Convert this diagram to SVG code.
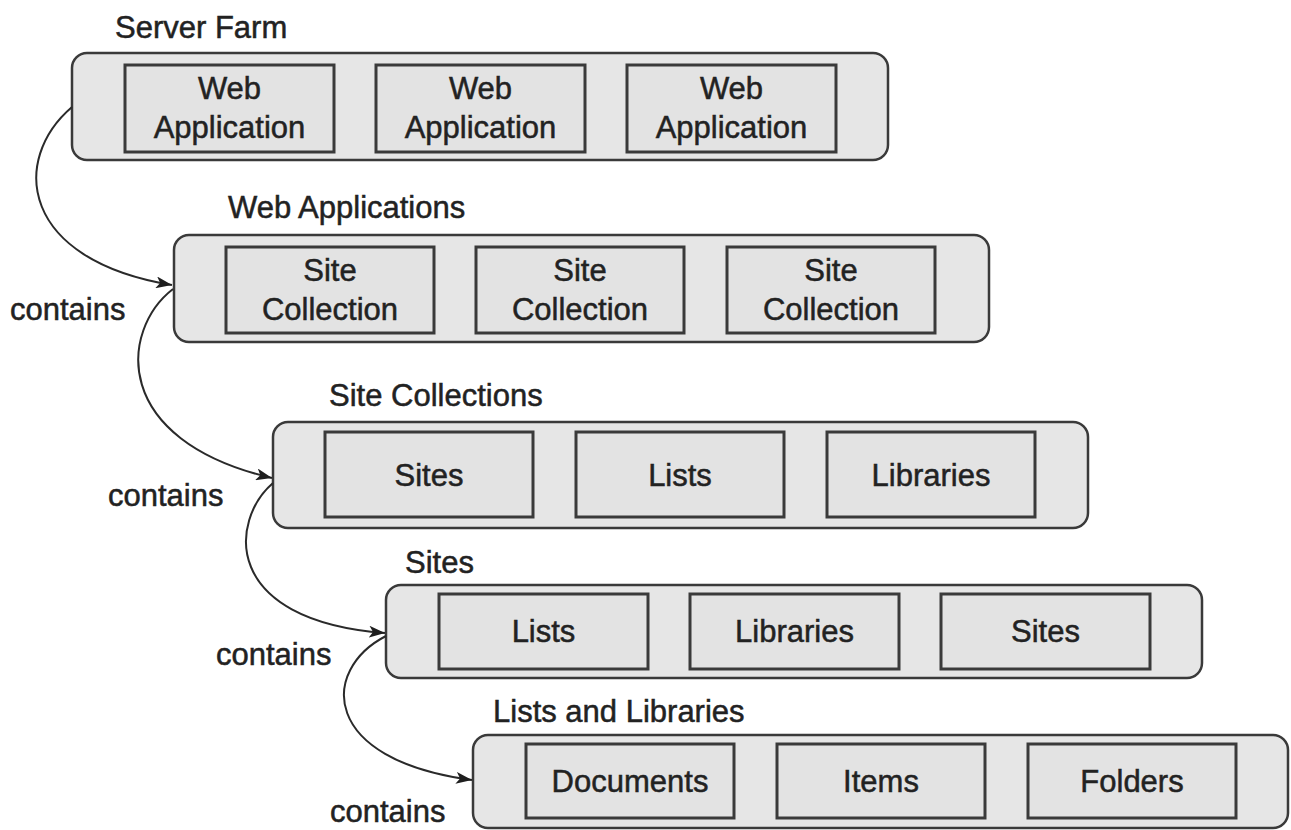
<svg xmlns="http://www.w3.org/2000/svg" width="1291" height="830" viewBox="0 0 1291 830">
<defs>
<style>
.outer{fill:#e6e6e6;stroke:#3a3a3a;stroke-width:2.5}
.inner{fill:#e3e3e3;stroke:#3a3a3a;stroke-width:3}
text{font-family:"Liberation Sans",Arial,sans-serif;font-size:31px;fill:#222;stroke:#222;stroke-width:0.5}
.c{text-anchor:middle}
.conn{fill:none;stroke:#2a2a2a;stroke-width:2}
</style>
<marker id="arr" markerWidth="16" markerHeight="12" refX="16" refY="6" orient="auto" markerUnits="userSpaceOnUse">
<path d="M0,0 L16,6 L0,12 L4,6 Z" fill="#1e1e1e"/>
</marker>
</defs>
<rect width="1291" height="830" fill="#ffffff"/>

<g id="server-farm">
<text x="115" y="38">Server Farm</text>
<rect class="outer" x="72" y="53" width="816" height="107" rx="15"/>
<rect class="inner" x="125" y="65" width="209" height="87"/>
<text class="c" x="229.5" y="99">Web</text><text class="c" x="229.5" y="138">Application</text>
<rect class="inner" x="376" y="65" width="209" height="87"/>
<text class="c" x="480.5" y="99">Web</text><text class="c" x="480.5" y="138">Application</text>
<rect class="inner" x="627" y="65" width="209" height="87"/>
<text class="c" x="731.5" y="99">Web</text><text class="c" x="731.5" y="138">Application</text>
</g>

<g id="web-applications">
<text x="228" y="218">Web Applications</text>
<rect class="outer" x="174" y="235" width="815" height="107" rx="15"/>
<rect class="inner" x="226" y="247" width="208" height="86"/>
<text class="c" x="330" y="281">Site</text><text class="c" x="330" y="320">Collection</text>
<rect class="inner" x="476" y="247" width="208" height="86"/>
<text class="c" x="580" y="281">Site</text><text class="c" x="580" y="320">Collection</text>
<rect class="inner" x="727" y="247" width="208" height="86"/>
<text class="c" x="831" y="281">Site</text><text class="c" x="831" y="320">Collection</text>
</g>

<g id="site-collections">
<text x="329" y="406">Site Collections</text>
<rect class="outer" x="273" y="422" width="815" height="106" rx="15"/>
<rect class="inner" x="325" y="432" width="208" height="85"/>
<text class="c" x="429" y="486">Sites</text>
<rect class="inner" x="576" y="432" width="208" height="85"/>
<text class="c" x="680" y="486">Lists</text>
<rect class="inner" x="827" y="432" width="208" height="85"/>
<text class="c" x="931" y="486">Libraries</text>
</g>

<g id="sites">
<text x="405" y="573">Sites</text>
<rect class="outer" x="386" y="585" width="816" height="93" rx="15"/>
<rect class="inner" x="439" y="594" width="209" height="75"/>
<text class="c" x="543.5" y="642">Lists</text>
<rect class="inner" x="690" y="594" width="209" height="75"/>
<text class="c" x="794.5" y="642">Libraries</text>
<rect class="inner" x="941" y="594" width="209" height="75"/>
<text class="c" x="1045.5" y="642">Sites</text>
</g>

<g id="lists-and-libraries">
<text x="493" y="722">Lists and Libraries</text>
<rect class="outer" x="473" y="735" width="815" height="93" rx="15"/>
<rect class="inner" x="526" y="744" width="208" height="74"/>
<text class="c" x="630" y="792">Documents</text>
<rect class="inner" x="777" y="744" width="208" height="74"/>
<text class="c" x="881" y="792">Items</text>
<rect class="inner" x="1028" y="744" width="208" height="74"/>
<text class="c" x="1132" y="792">Folders</text>
</g>

<g id="connectors">
<path class="conn" d="M72,107 C10,160 20,260 172,285" marker-end="url(#arr)"/>
<path class="conn" d="M173,289 C120,330 110,440 272,478" marker-end="url(#arr)"/>
<path class="conn" d="M273,483 C230,520 220,620 385,633" marker-end="url(#arr)"/>
<path class="conn" d="M386,636 C320,670 320,760 472,780" marker-end="url(#arr)"/>
<text x="10" y="320">contains</text>
<text x="108" y="506">contains</text>
<text x="216" y="665">contains</text>
<text x="330" y="822">contains</text>
</g>
</svg>
